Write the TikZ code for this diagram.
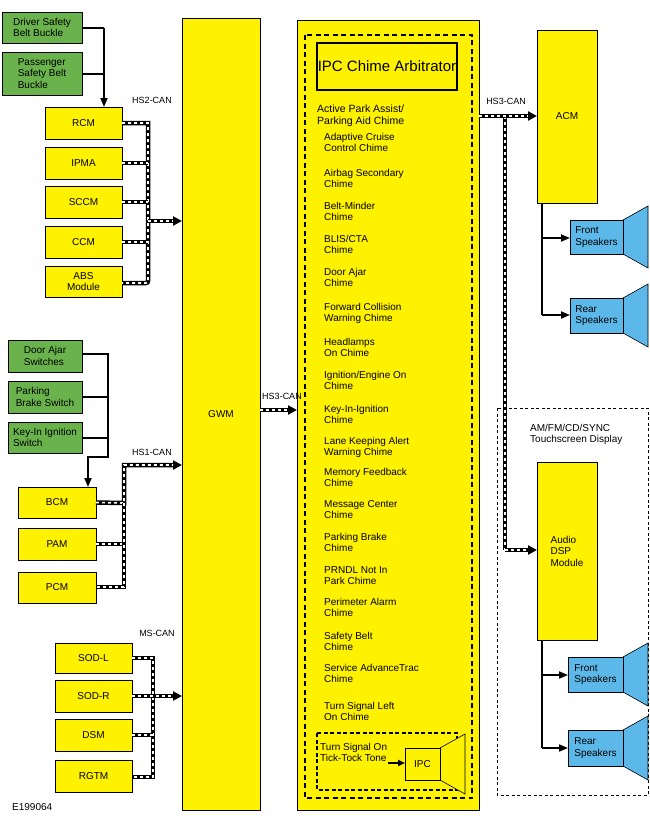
\documentclass[tikz,border=0pt]{standalone}
\usepackage{fontspec}
\setmainfont{Liberation Sans}
\usetikzlibrary{arrows.meta}
\definecolor{yel}{RGB}{255,242,0}
\definecolor{grn}{RGB}{106,178,76}
\definecolor{blu}{RGB}{91,184,232}
\newcommand\mybox[7]{\node[#6, minimum width={(#4-#2)*1pt}, minimum height={(#5-#3)*1pt}] (#1) at ({(#2+#4)/2},{(#3+#5)/2}) {#7};}
\newcommand\canpath[1]{\draw[canblk] #1; \draw[canwht] #1;}
\newcommand\canarrow[1]{\draw[canblk,-{Triangle[length=9pt,width=9pt]}] #1; \draw[canwht,shorten >=9pt] #1;}
\newcommand\spk[4]{\fill[#4,draw=black,line width=0.6pt] (#1,#2) -- (#1+25,#2-14) -- (#1+25,#3+14) -- (#1,#3) -- cycle;}
\begin{document}
\begin{tikzpicture}[x=1pt,y=-1pt,font=\fontsize{10}{11.5}\selectfont,
 base/.style={draw=black,line width=0.8pt,inner sep=1pt,outer sep=0pt,align=center},
 ybox/.style={base,fill=yel},
 gbox/.style={base,fill=grn,align=left},
 bbox/.style={base,fill=blu,align=left},
 canblk/.style={line width=4.5pt,black},
 canwht/.style={line width=1.6pt,white,dash pattern=on 3pt off 3pt},
 wire/.style={line width=1.8pt,black},
 warr/.style={wire,-{Triangle[length=9pt,width=7pt]}},
 lbl/.style={font=\fontsize{9}{10}\selectfont},
 item/.style={anchor=north west,align=left,inner sep=0pt}]
\useasboundingbox (0,0) rectangle (650,820);
% left column top
\mybox{dsb}{2}{12}{82}{43}{gbox}{Driver Safety\\Belt Buckle}
\mybox{psb}{2}{52}{82}{95}{gbox}{Passenger\\Safety Belt\\Buckle}
\mybox{rcm}{45}{107}{122}{139}{ybox}{RCM}
\mybox{ipma}{45}{147}{122}{179}{ybox}{IPMA}
\mybox{sccm}{45}{186}{122}{218}{ybox}{SCCM}
\mybox{ccm}{45}{226}{122}{258}{ybox}{CCM}
\mybox{abs}{45}{266}{122}{297}{ybox}{ABS\\Module}
\mybox{gwm}{182}{18}{260}{810}{ybox}{GWM}
\coordinate (j1) at (104,28);
\draw[wire] (dsb.east |- 0,28) -- (j1);
\draw[wire] (psb.east |- 0,74) -- (104,74);
\draw[warr] (j1) -- (104,107);
\node[lbl] (hs2) at (152,100) {HS2-CAN};
\coordinate (b2) at (148,221);
\canpath{(rcm.east) -- (148,123) -- (148,281) [rounded corners=2pt] -- (148,283) -- (abs.east |- 0,283)}
\canpath{(ipma.east) -- (148,163)}
\canpath{(sccm.east) -- (148,202)}
\canpath{(ccm.east) -- (148,242)}
\canarrow{(b2) -- (gwm.west |- b2)}
% middle left
\mybox{daj}{8}{340}{82}{372}{gbox}{Door Ajar\\Switches}
\mybox{pbs}{8}{381}{82}{413}{gbox}{Parking\\Brake Switch}
\mybox{kis}{8}{422}{82}{453}{gbox}{Key-In Ignition\\Switch}
\mybox{bcm}{18}{487}{96}{518}{ybox}{BCM}
\mybox{pam}{18}{528}{96}{560}{ybox}{PAM}
\mybox{pcm}{18}{572}{96}{603}{ybox}{PCM}
\draw[wire] (daj.east |- 0,354) -- (108,354) -- (108,457) -- (88,457);
\draw[wire] (pbs.east |- 0,397) -- (108,397);
\draw[wire] (kis.east |- 0,438) -- (108,438);
\draw[warr] (88,456) -- (88,487);
\node[lbl] (hs1) at (152,452) {HS1-CAN};
\canarrow{(bcm.east) -- (124,503) -- (124,465) -- (gwm.west |- 0,465)}
\canpath{(pam.east) -- (124,544)}
\canpath{(124,503) -- (124,587) -- (pcm.east |- 0,587)}
% bottom left
\mybox{sodl}{55}{643}{132}{673}{ybox}{SOD-L}
\mybox{sodr}{55}{680}{132}{712}{ybox}{SOD-R}
\mybox{dsm}{55}{719}{132}{751}{ybox}{DSM}
\mybox{rgtm}{55}{760}{132}{792}{ybox}{RGTM}
\node[lbl] (ms) at (157,633) {MS-CAN};
\canpath{(sodl.east |- 0,658) -- (153,658) -- (153,777) -- (rgtm.east |- 0,777)}
\canpath{(dsm.east |- 0,735) -- (153,735)}
\canarrow{(sodr.east |- 0,696) -- (gwm.west |- 0,696)}
\node[anchor=west,inner sep=0pt] (code) at (12,807) {E199064};
% GWM -> IPC
\mybox{ipc}{297}{20}{479}{810}{ybox}{}
\node[lbl] (hs3a) at (282,396) {HS3-CAN};
\canarrow{(gwm.east |- 0,410) -- (ipc.west |- 0,410)}
\draw[line width=2pt,dash pattern=on 5pt off 3.5pt] (305,35) rectangle (472,798);
\mybox{arb}{317}{43}{457}{90}{base,line width=2pt}{\fontsize{15}{17}\selectfont IPC Chime Arbitrator}
\node[item] (c0) at (317,105) {\fontsize{10.5}{13}\selectfont Active Park Assist/\\\fontsize{10.5}{13}\selectfont Parking Aid Chime};
\foreach \n/\y/\t in {c1/133/{Adaptive Cruise\\Control Chime},c2/169/{Airbag Secondary\\Chime},c3/202/{Belt-Minder\\Chime},c4/235/{BLIS/CTA\\Chime},c5/268/{Door Ajar\\Chime},c6/303/{Forward Collision\\Warning Chime},c7/338/{Headlamps\\On Chime},c8/371/{Ignition/Engine On\\Chime},c9/405/{Key-In-Ignition\\Chime},c10/437/{Lane Keeping Alert\\Warning Chime},c11/468/{Memory Feedback\\Chime},c12/500/{Message Center\\Chime},c13/533/{Parking Brake\\Chime},c14/566/{PRNDL Not In\\Park Chime},c15/598/{Perimeter Alarm\\Chime},c16/632/{Safety Belt\\Chime},c17/664/{Service AdvanceTrac\\Chime},c18/702/{Turn Signal Left\\On Chime}}
  \node[item] (\n) at (324,\y) {\t};
\draw[line width=1.6pt,dash pattern=on 4pt off 2.5pt] (317,733) rectangle (457,790);
\node[item] (ts) at (320,743) {Turn Signal On\\Tick-Tock Tone};
\spk{440}{748}{780}{yel}
\mybox{ipcs}{405}{748}{440}{780}{base,fill=yel}{IPC}
\draw[wire,-{Triangle[length=7pt,width=6pt]}] (388,763) -- (ipcs.west |- 0,763);
% right side
\mybox{acm}{537}{30}{597}{203}{ybox}{ACM}
\node[lbl] (hs3b) at (506,101) {HS3-CAN};
\mybox{dsp}{537}{462}{597}{640}{ybox,align=left}{Audio\\DSP\\Module}
\canpath{(505,116) -- (505,550)}
\canarrow{(ipc.east |- 0,116) -- (acm.west |- 0,116)}
\canarrow{(505,550) -- (dsp.west |- 0,550)}
\draw[line width=0.7pt,dash pattern=on 3pt off 2.5pt] (497,408) rectangle (648,795);
\node[item] (amfm) at (530,424) {AM/FM/CD/SYNC\\Touchscreen Display};
\spk{623}{220}{254}{blu}
\mybox{fs1}{570}{220}{623}{254}{bbox}{Front\\Speakers}
\spk{623}{298}{333}{blu}
\mybox{rs1}{570}{298}{623}{333}{bbox}{Rear\\Speakers}
\spk{623}{657}{692}{blu}
\mybox{fs2}{568}{657}{623}{692}{bbox}{Front\\Speakers}
\spk{623}{730}{766}{blu}
\mybox{rs2}{568}{730}{623}{766}{bbox}{Rear\\Speakers}
\draw[wire] (542,203) -- (542,315);
\draw[warr] (542,238) -- (fs1.west |- 0,238);
\draw[warr] (542,315) -- (rs1.west |- 0,315);
\draw[wire] (542,640) -- (542,748);
\draw[warr] (542,675) -- (fs2.west |- 0,675);
\draw[warr] (542,748) -- (rs2.west |- 0,748);
\end{tikzpicture}
\end{document}
